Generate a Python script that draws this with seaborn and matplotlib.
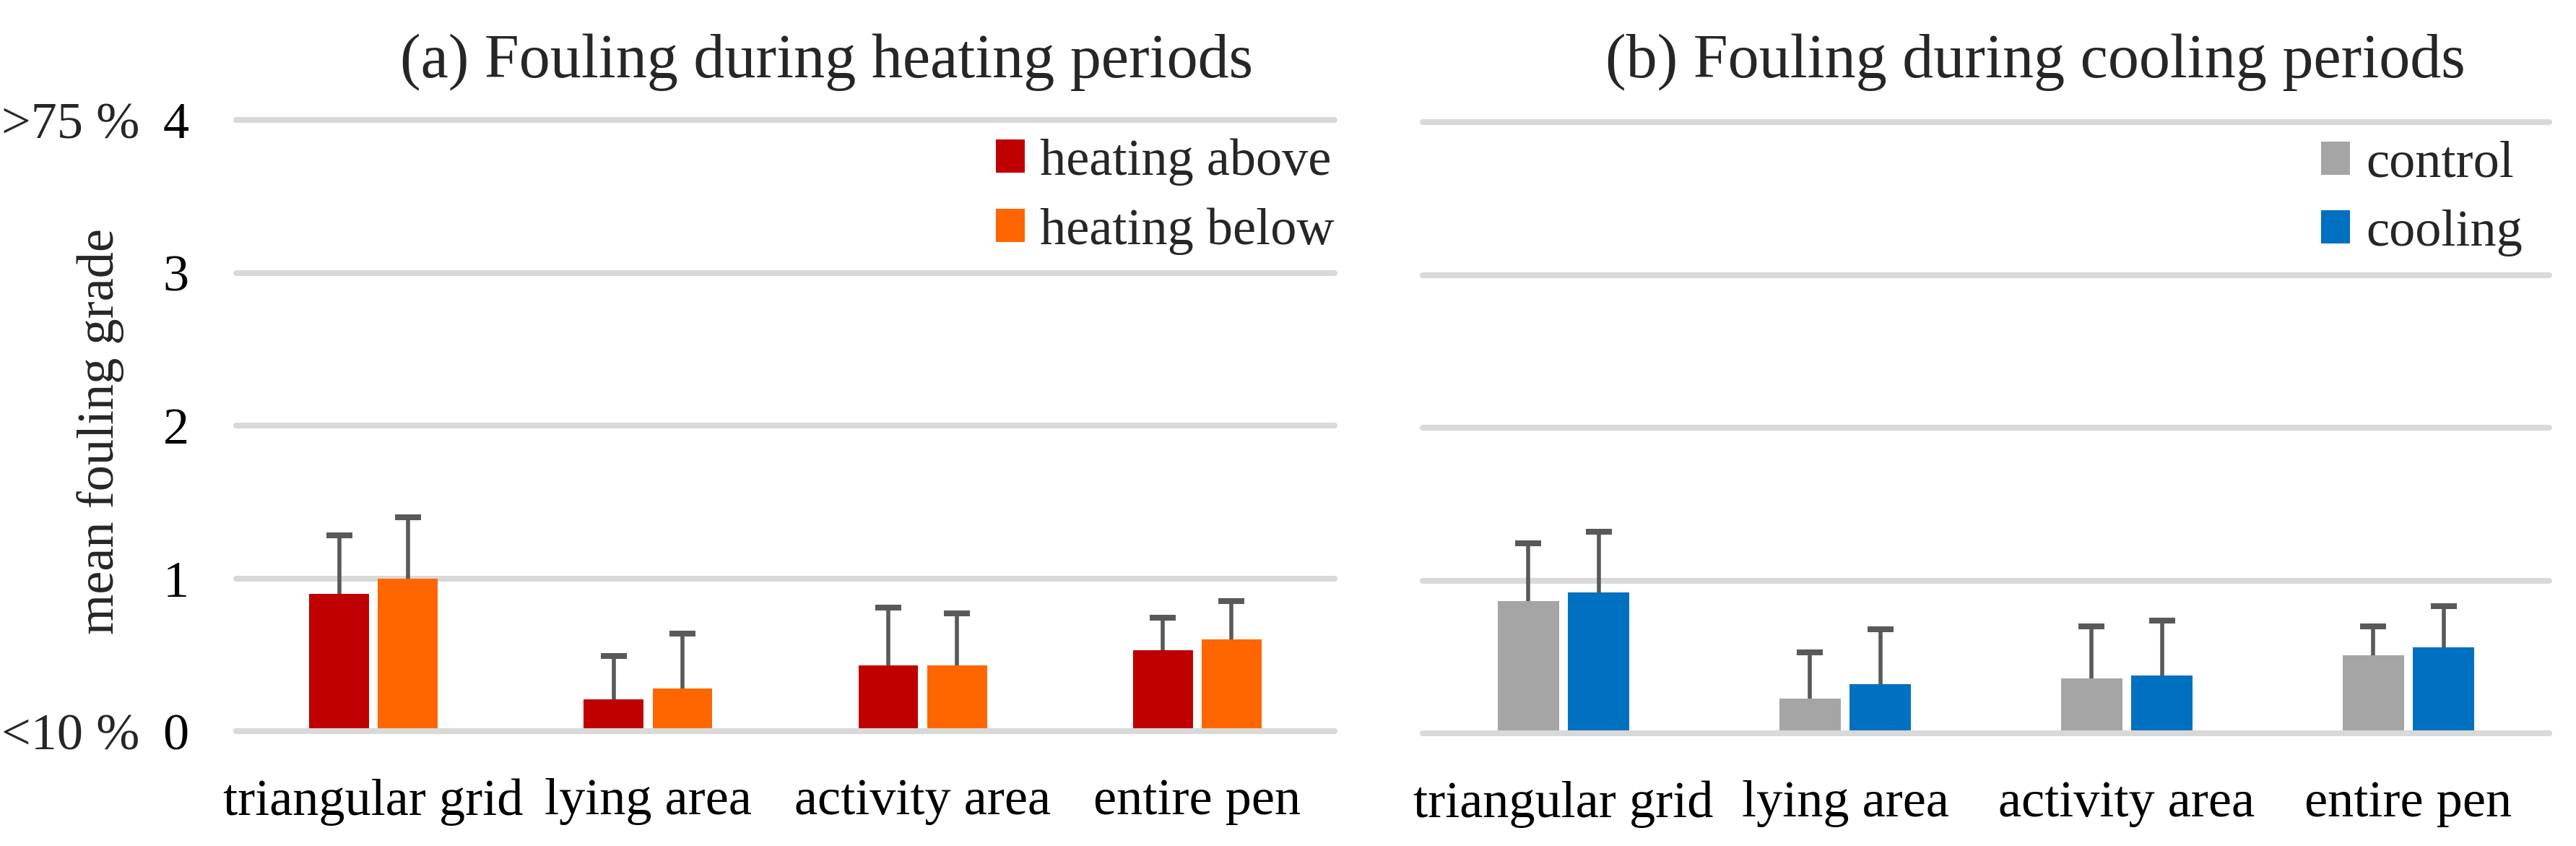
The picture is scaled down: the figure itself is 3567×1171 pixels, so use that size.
import matplotlib
matplotlib.use("Agg")
import matplotlib.pyplot as plt
import seaborn as sns
import pandas as pd

# ---------------- data ----------------
categories = ["triangular grid", "lying area", "activity area", "entire pen"]

heat_series = ["heating above", "heating below"]
heat_above = [0.90, 0.21, 0.43, 0.53]
heat_above_sd = [0.38, 0.28, 0.38, 0.21]
heat_below = [1.00, 0.28, 0.43, 0.60]
heat_below_sd = [0.40, 0.36, 0.34, 0.25]

cool_series = ["control", "cooling"]
cool_control = [0.865, 0.225, 0.357, 0.51]
cool_control_sd = [0.38, 0.305, 0.343, 0.19]
cool_cooling = [0.92, 0.32, 0.376, 0.565]
cool_cooling_sd = [0.40, 0.36, 0.36, 0.265]

y_ticks = [0, 1, 2, 3, 4]
title_a = "(a) Fouling during heating periods"
title_b = "(b) Fouling during cooling periods"
y_label = "mean fouling grade"
top_note = ">75 %"
bottom_note = "<10 %"

heat_colors = ["#C00000", "#FF6600"]
cool_colors = ["#A5A5A5", "#0070C0"]

# ---------------- style ----------------
sns.set_theme(style="white")
plt.rcParams["font.family"] = ["Liberation Serif", "DejaVu Serif"]
FS = 52

W, H = 3567, 1171
fig = plt.figure(figsize=(W / 100, H / 100), dpi=100)

ax_bottom = (H - 1012) / H
ax_height = (1012 - 166) / H
ax_a = fig.add_axes([327 / W, ax_bottom, (1848 - 327) / W, ax_height])
ax_b = fig.add_axes([1970 / W, ax_bottom - 3 / H, (3530 - 1970) / W, ax_height])


def draw_panel(ax, series, values, sds, colors, legend_anchor):
    rows = []
    for s, vals in zip(series, values):
        for c, v in zip(categories, vals):
            rows.append({"category": c, "series": s, "value": v})
    df = pd.DataFrame(rows)
    sns.barplot(data=df, x="category", y="value", hue="series",
                order=categories, hue_order=series,
                palette=colors, width=0.5, gap=0.13, errorbar=None,
                saturation=1, ax=ax, zorder=2, linewidth=0)
    # one-sided (upper) error bars from bar centres
    for cont, sd in zip(ax.containers, sds):
        xs = [p.get_x() + p.get_width() / 2 for p in cont.patches]
        hs = [p.get_height() for p in cont.patches]
        eb = ax.errorbar(xs, hs, yerr=[[0] * len(sd), sd], fmt="none",
                         ecolor="#595959", elinewidth=4, capsize=13,
                         capthick=5.8, zorder=3)
        caplines = eb[1]
        if len(caplines) >= 2:
            caplines[0].set_visible(False)
    ax.set_ylim(0, 4)
    ax.set_yticks(y_ticks)
    ax.set_xlim(-0.5, len(categories) - 0.5)
    ax.yaxis.grid(True, color="#D9D9D9", linewidth=5.8, zorder=0)
    ax.set_axisbelow(True)
    for gl in ax.get_ygridlines():
        gl.set_clip_on(False)
    ax.axhline(0, color="#D9D9D9", linewidth=5.8, zorder=4, clip_on=False)
    for sp in ax.spines.values():
        sp.set_visible(False)
    ax.tick_params(axis="both", length=0, labelsize=FS, colors="black")
    ax.tick_params(axis="x", pad=47)
    ax.tick_params(axis="y", pad=47)
    ax.set_xlabel("")
    ax.set_ylabel("")
    handles = list(ax.containers)
    ax.legend(handles, series, loc="upper right", bbox_to_anchor=legend_anchor,
              frameon=False, fontsize=FS, handlelength=0.55, handleheight=0.6,
              handletextpad=0.3, labelspacing=0.42, borderaxespad=0, borderpad=0)


draw_panel(ax_a, heat_series, [heat_above, heat_below],
           [heat_above_sd, heat_below_sd], heat_colors, (1.0, 0.97))
draw_panel(ax_b, cool_series, [cool_control, cool_cooling],
           [cool_control_sd, cool_cooling_sd], cool_colors, (0.976, 0.97))

ax_b.set_yticklabels([])
ax_b.tick_params(axis="y", pad=0)

# y label and percentage notes on left panel
ax_a.set_ylabel(y_label, fontsize=FS)
ax_a.yaxis.set_label_coords((172 - 327) / 1521, 0.49)
ax_a.text((193 - 327) / 1521, 4, top_note, transform=ax_a.get_yaxis_transform(),
          ha="right", va="center_baseline", fontsize=FS)
ax_a.text((193 - 327) / 1521, 0, bottom_note, transform=ax_a.get_yaxis_transform(),
          ha="right", va="center_baseline", fontsize=FS)

# titles
fig.text(1145 / W, (H - 107) / H, title_a, ha="center", va="baseline", fontsize=62)
fig.text(2818 / W, (H - 107) / H, title_b, ha="center", va="baseline", fontsize=62)

fig.savefig("out.png", dpi=100, facecolor="white")
